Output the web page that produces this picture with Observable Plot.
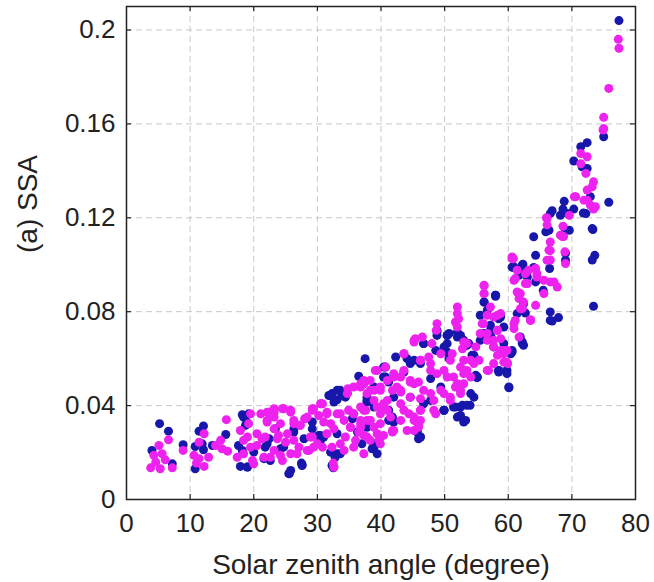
<!DOCTYPE html>
<html><head><meta charset="utf-8">
<script src="https://cdn.jsdelivr.net/npm/d3@7"></script>
<script src="https://cdn.jsdelivr.net/npm/@observablehq/plot@0.6"></script>
<style>body{margin:0;background:#fff}</style>
</head><body><div id="chart"></div>
<script>
const xTicks = [0, 10, 20, 30, 40, 50, 60, 70, 80];
const yTicks = [0, 0.04, 0.08, 0.12, 0.16, 0.2];
const xLabel = "Solar zenith angle (degree)";
const yLabel = "(a) SSA";

// [solar zenith angle, SSA] — blue series
const bluePts = [
[5.2,0.0323],[6.6,0.0291],[4.0,0.0209],[7.2,0.0152],[8.9,0.0233],[12.1,0.0313],[11.4,0.0291],[10.8,0.0226],[12.1,0.0212],[10.8,0.0131],[11.9,0.0237],[13.5,0.023],[15.6,0.0277],[18.2,0.0361],[19.2,0.0365],[18.9,0.033],[17.6,0.023],[17.9,0.0141],[19.0,0.0138],[20.0,0.0202],[21.8,0.0223],[25.6,0.011],[27.5,0.0155],[31.8,0.0443],
[37.5,0.06],[36.5,0.0525],[40.7,0.0564],[32.3,0.0451],[33.6,0.0465],[34.4,0.0436],[33.1,0.0425],[38.9,0.0479],[37.8,0.0422],[41.2,0.038],[23.4,0.0301],[26.3,0.0301],[29.2,0.033],[22.1,0.0252],[24.7,0.0223],[27.9,0.0259],[30.5,0.0273],[33.1,0.028],[36.3,0.0287],[38.9,0.0223],[39.4,0.0195],[21.6,0.0174],[25.5,0.011],[27.6,0.0148],[32.1,0.0202],[32.8,0.0188],[32.3,0.0145],
[32.5,0.0135],[38.6,0.0216],[45.9,0.0259],[45.7,0.0287],[49.9,0.038],[52.4,0.0354],[53.0,0.033],[51.4,0.0394],[54.0,0.0401],[54.6,0.0436],[60.1,0.0476],[55.1,0.0519],[58.5,0.055],[60.6,0.0628],[58.0,0.0866],[62.2,0.0664],[66.6,0.0763],[67.9,0.0775],[73.4,0.0823],[44.1,0.06],[40.4,0.0564],[48.8,0.0699],[50.4,0.0699],[52.0,0.0713],[56.2,0.0707],[57.3,0.0692],[54.9,0.0529],[50.7,0.06],[50.4,0.0628],[31.0,0.0266],[33.1,0.0195],[38.9,0.0237],
[58.0,0.087],[56.2,0.0841],[58.8,0.0777],[55.6,0.0785],[52.5,0.0699],[48.8,0.0721],[50.7,0.0707],[46.7,0.0664],[48.6,0.0635],[50.4,0.0664],[53.8,0.0664],[54.3,0.0614],[57.2,0.0721],[57.7,0.065],[58.5,0.0543],[59.8,0.055],[55.1,0.0522],[54.1,0.0451],[52.8,0.0401],[51.7,0.0394],[52.5,0.0358],[44.6,0.0579],[42.3,0.0607],[40.4,0.0522],[44.6,0.0436],[47.8,0.0422],[49.9,0.038],[45.7,0.033],[46.2,0.0266],[41.2,0.0337],[42.0,0.0436],
[64.0,0.1119],[69.0,0.105],[62.3,0.1002],[60.8,0.0988],[61.8,0.097],[64.0,0.0988],[65.5,0.0891],[66.6,0.0799],[66.9,0.076],[62.7,0.0794],[61.9,0.0692],[62.4,0.0657],[58.5,0.0777],[59.3,0.0735],[60.4,0.0621],
[60.6,0.099],[62.2,0.0998],[64.3,0.104],[66.6,0.1218],[66.4,0.1147],[66.5,0.0984],[69.0,0.1147],[68.2,0.1211],[69.3,0.1218],[70.3,0.1442],[71.4,0.1503],[72.4,0.152],[71.6,0.1417],[72.9,0.129],[72.2,0.1218],[75.0,0.1545],[77.4,0.204],[69.0,0.1019],[75.8,0.1266],[73.3,0.115],[73.6,0.104],[73.2,0.102],[68.8,0.127],[68.6,0.1237],[66.9,0.123],[70.3,0.1237],[71.8,0.122],[65.9,0.114],[69.6,0.1147],[73.2,0.1154],[72.4,0.141],
[33.1,0.0465],[32.1,0.0443],[33.9,0.0443],[34.7,0.0453],[32.6,0.0415],[18.4,0.0351],[18.7,0.0316],[18.2,0.0209],[19.0,0.0138],[22.1,0.0237],[22.4,0.0259],[22.6,0.0166],[25.8,0.0124],[26.3,0.0287],[27.6,0.0145],[29.2,0.0301],[30.2,0.0273],[30.5,0.0252],[32.1,0.0202],[32.8,0.018],[33.6,0.0195],[35.5,0.0344],[37.8,0.0415],[37.0,0.0237],[24.2,0.0216],
[48.8,0.0713],[46.7,0.0664],[50.4,0.0699],[52.0,0.0692],[53.5,0.0657],[45.2,0.0593],[46.2,0.0579],[49.9,0.065],[54.6,0.0614],[55.1,0.0522],[40.7,0.0522],[41.2,0.05],[43.6,0.0543],[47.8,0.0515],[49.4,0.0479],[52.5,0.0394],[53.5,0.0401],[52.0,0.0351],[53.3,0.0337],[49.9,0.038],[46.7,0.0408],[37.8,0.0436],[38.9,0.0394],[41.8,0.0351],[42.0,0.033],[45.7,0.0294],[46.2,0.0266],[37.8,0.0308],[38.9,0.0237],
[60.9,0.0991],[61.7,0.0955],[63.0,0.0948],[64.3,0.0927],[62.4,0.0834],[61.4,0.0792],[62.2,0.0671],[58.0,0.087],[56.2,0.0841],[56.7,0.0806],[58.8,0.0785],[58.5,0.077],[57.2,0.0742],[55.6,0.0678],[54.6,0.0607],[59.3,0.0664],[60.6,0.0635],[58.5,0.055],[59.8,0.0536],[55.1,0.0522],[53.0,0.0678],[60.1,0.0479]
];

// [solar zenith angle, SSA] — magenta series
const magentaPts = [
[6.6,0.0254],[5.1,0.023],[4.3,0.0188],[5.6,0.0195],[6.1,0.0169],[4.6,0.0159],[3.8,0.0135],[7.2,0.0135],[5.3,0.0131],[8.9,0.0209],[12.2,0.028],[11.4,0.0244],[10.6,0.0188],[11.4,0.0174],[12.9,0.018],[11.0,0.0155],[12.2,0.0141],[15.7,0.034],[14.0,0.023],[14.8,0.0252],[15.0,0.0216],[15.9,0.0206],[17.9,0.0294],[19.0,0.0266],[17.4,0.018],[18.4,0.0195],[19.8,0.0166],[20.5,0.023],[21.3,0.0259],[22.1,0.0372],[23.2,0.0387],[24.6,0.0387],[22.5,0.0365],[21.1,0.0365],[30.6,0.0408],[29.4,0.0387],[28.0,0.0344],
[39.4,0.055],[34.8,0.0472],[36.8,0.0479],[38.3,0.0507],[39.9,0.0465],[30.8,0.0408],[29.2,0.0387],[22.6,0.0372],[24.7,0.0387],[25.8,0.038],[22.1,0.033],[23.2,0.0351],[24.2,0.0323],[26.3,0.0337],[27.3,0.0316],[28.4,0.0351],[30.2,0.0358],[31.5,0.0372],[33.1,0.0365],[34.9,0.038],[36.8,0.0394],[39.4,0.0394],[41.0,0.0422],[21.8,0.0266],[23.7,0.0259],[25.3,0.028],[26.3,0.0252],[28.9,0.0266],[29.4,0.0223],[31.5,0.028],[32.6,0.0301],[34.2,0.0337],[35.2,0.0308],[36.8,0.0323],[37.8,0.0337],[38.9,0.0308],[38.3,0.0252],[40.4,0.0273],[22.6,0.018],[24.2,0.0188],[26.8,0.0195],[28.7,0.0209],[34.2,0.0209],[32.6,0.0138],[30.8,0.0223],
[32.5,0.0155],[41.8,0.0287],[48.8,0.0749],[48.7,0.0721],[45.4,0.0685],[39.1,0.055],[51.7,0.0756],[53.5,0.0664],[56.1,0.0749],[56.7,0.0785],[58.8,0.0792],[59.8,0.0635],[56.9,0.055],[54.1,0.0593],[52.5,0.0564],[51.4,0.0522],[52.5,0.0465],[47.8,0.0579],[46.2,0.0593],[43.6,0.055],[44.6,0.0507],[42.5,0.0479],[41.0,0.0507],[38.9,0.0465],[36.8,0.0493],[34.7,0.0451],[46.2,0.038],[48.3,0.0422],[49.9,0.0451],[45.2,0.0337],[45.9,0.0308],[43.1,0.0337],[41.5,0.0351],[39.9,0.0365],[38.3,0.0337],[36.8,0.0308],[35.7,0.0365],[33.6,0.0365],[32.1,0.0323],[39.7,0.0252],[35.7,0.0223],[37.3,0.0273],[63.5,0.0763],[59.9,0.0579],
[56.2,0.0877],[58.3,0.0785],[52.0,0.082],[52.2,0.077],[52.0,0.0735],[46.5,0.0692],[45.2,0.0678],[51.2,0.0621],[52.8,0.0642],[55.6,0.0707],[56.7,0.0678],[58.8,0.0635],[59.3,0.0585],[57.7,0.0579],[56.7,0.055],[55.4,0.0593],[53.0,0.0536],[52.0,0.0493],[50.9,0.0436],[49.4,0.0465],[49.9,0.055],[47.8,0.055],[46.2,0.0593],[43.6,0.0621],[40.7,0.0564],[42.0,0.0522],[43.1,0.0465],[45.2,0.0493],[46.7,0.0465],[48.3,0.038],[46.2,0.038],[44.4,0.0365],[41.8,0.0294],[40.4,0.0394],[43.1,0.0408],[39.9,0.0266],[45.2,0.0294],
[68.5,0.112],[66.6,0.1097],[69.0,0.1005],[66.6,0.106],[66.6,0.102],[60.8,0.1026],[61.1,0.0941],[64.5,0.0962],[63.0,0.092],[65.6,0.0934],[67.7,0.0905],[66.6,0.0927],[64.3,0.0827],[61.9,0.0877],[62.4,0.0841],[62.2,0.0813],[63.5,0.0766],[61.1,0.0763],[60.9,0.0728],[58.3,0.0721],[57.7,0.0678],[59.3,0.0635],[58.3,0.0614],[59.8,0.0585],
[56.2,0.091],[60.6,0.1026],[62.7,0.0962],[66.1,0.1197],[66.4,0.1062],[67.2,0.0927],[68.2,0.1126],[68.9,0.1055],[70.6,0.129],[71.4,0.1474],[72.4,0.146],[72.2,0.1389],[73.4,0.1353],[73.2,0.1332],[72.4,0.1318],[72.4,0.1275],[72.9,0.1254],[73.7,0.1247],[74.9,0.1574],[75.0,0.1628],[75.8,0.1751],[77.3,0.196],[77.4,0.1922],[71.9,0.1275],[73.4,0.1237],[66.0,0.12],[69.6,0.121],[66.1,0.117],[68.6,0.1164],[68.7,0.112],[70.4,0.129],[71.4,0.143],[75.0,0.158],
[35.7,0.0479],[37.3,0.0493],[37.8,0.0451],[30.5,0.0408],[29.2,0.038],[28.1,0.0344],[27.3,0.0316],[25.8,0.0372],[24.5,0.0387],[23.2,0.0372],[22.1,0.0337],[22.4,0.0372],[19.5,0.0365],[19.2,0.0323],[20.5,0.028],[18.4,0.0252],[19.5,0.0223],[20.0,0.0152],[21.6,0.018],[23.2,0.0209],[23.9,0.0273],[25.0,0.0244],[25.8,0.0195],[24.5,0.0166],[27.1,0.0223],[26.3,0.0323],[28.4,0.0209],[29.2,0.0266],[30.0,0.0237],[31.0,0.033],[31.5,0.0365],[32.3,0.0223],[33.6,0.0237],[32.6,0.0138],[34.4,0.0266],[35.2,0.0308],[35.7,0.0365],[36.8,0.0337],[37.6,0.038],[36.5,0.0287],[36.0,0.0252],[37.3,0.0195],[23.2,0.0301],
[52.0,0.0792],[45.2,0.0671],[48.0,0.0664],[53.0,0.0671],[43.6,0.0621],[47.5,0.0607],[49.4,0.0621],[50.9,0.0593],[54.6,0.0579],[54.1,0.0522],[42.0,0.0536],[43.1,0.0522],[44.6,0.05],[45.9,0.05],[48.8,0.0536],[50.4,0.0522],[51.7,0.0479],[52.5,0.0451],[50.9,0.0422],[47.8,0.0451],[46.2,0.0429],[44.6,0.0436],[43.1,0.0458],[41.8,0.0465],[39.9,0.0479],[38.3,0.0465],[37.3,0.0507],[38.9,0.0422],[40.4,0.0408],[41.0,0.038],[43.6,0.038],[45.2,0.0351],[46.2,0.0337],[45.9,0.0316],[44.1,0.0294],[42.0,0.0294],[39.9,0.0323],[38.3,0.0337],[37.3,0.038],[37.8,0.0266],[39.9,0.0237],[39.4,0.028],[48.6,0.0365],
[60.6,0.1033],[61.4,0.0977],[63.2,0.0977],[64.3,0.0984],[60.9,0.0934],[62.7,0.092],[65.6,0.0877],[61.4,0.0884],[61.7,0.0856],[61.9,0.0813],[63.5,0.0763],[60.9,0.0749],[61.7,0.0692],[56.2,0.0913],[56.2,0.0877],[57.2,0.082],[57.7,0.0777],[55.9,0.0749],[56.7,0.0707],[58.3,0.0721],[58.8,0.0685],[54.9,0.065],[57.7,0.065],[59.3,0.0621],[53.0,0.0593],[53.5,0.055],[53.0,0.0493],[66.1,0.1019],[64.5,0.0948]
];

const mL = 126, mT = 6, mR = 19, mB = 83, W = 654, H = 582;
const fw = W - mL - mR, fh = H - mT - mB, tk = 5;
const innerX = xTicks.filter(d => d > 0 && d < 80);
const innerY = yTicks.filter(d => d > 0);

const chart = Plot.plot({
  width: W, height: H,
  marginLeft: mL, marginTop: mT, marginRight: mR, marginBottom: mB,
  style: {fontFamily: "'Liberation Sans', Arial, sans-serif", fontSize: "26px", color: "#222", background: "#fff"},
  x: {domain: [0, 80]},
  y: {domain: [0, 0.21]},
  marks: [
    Plot.ruleX(innerX, {x: d => d, stroke: "#c8c8c8", strokeDasharray: "6,4"}),
    Plot.ruleY(innerY, {y: d => d, stroke: "#c8c8c8", strokeDasharray: "6,4"}),
    Plot.dot(bluePts, {x: d => d[0], y: d => d[1], r: 4.5, fill: "#1717ab", stroke: null}),
    Plot.dot(magentaPts, {x: d => d[0], y: d => d[1], r: 4.5, fill: "#ee22ee", stroke: null}),
    Plot.frame({stroke: "#222", strokeWidth: 1.5}),
    Plot.ruleX(innerX, {x: d => d, insetTop: fh - tk, stroke: "#222", strokeWidth: 1.2}),
    Plot.ruleX(innerX, {x: d => d, insetBottom: fh - tk, stroke: "#222", strokeWidth: 1.2}),
    Plot.ruleY(innerY, {y: d => d, insetRight: fw - tk, stroke: "#222", strokeWidth: 1.2}),
    Plot.ruleY(innerY, {y: d => d, insetLeft: fw - tk, stroke: "#222", strokeWidth: 1.2}),
    Plot.axisX(xTicks, {tickSize: 0, tickPadding: 14, label: null, fontSize: 26, tickFormat: d => String(d)}),
    Plot.axisY(yTicks, {tickSize: 0, tickPadding: 11, label: null, fontSize: 26, tickFormat: d => String(d)}),
    Plot.text([xLabel], {frameAnchor: "bottom", dy: 66, lineAnchor: "middle", fontSize: 28, fill: "#222"}),
    Plot.text([yLabel], {frameAnchor: "left", dx: -98, rotate: -90, lineAnchor: "middle", fontSize: 28, fill: "#222"})
  ]
});
document.getElementById("chart").appendChild(chart);
</script>
</body></html>
